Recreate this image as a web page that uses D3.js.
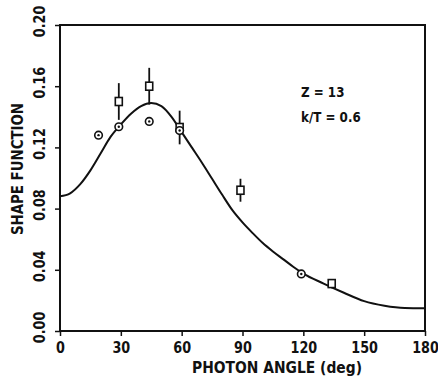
<!DOCTYPE html>
<html>
<head>
<meta charset="utf-8">
<script src="https://cdn.jsdelivr.net/npm/d3@7"></script>
<style>
  body { margin: 0; background: #fff; }
  text { font-family: "DejaVu Sans", sans-serif; font-weight: bold; fill: #111; }
</style>
</head>
<body>
<div id="chart"></div>
<script>
// theory curve (solid line)
const curveAngle = [0, 5, 10, 15, 20, 25, 30, 35, 40, 45, 50, 55, 60, 65, 70, 75, 80, 85, 90, 95, 100, 105, 110, 115, 120, 130, 140, 150, 160, 170, 180];
const curveValue = [0.088, 0.090, 0.096, 0.105, 0.116, 0.127, 0.135, 0.142, 0.147, 0.149, 0.147, 0.140, 0.130, 0.120, 0.110, 0.0995, 0.089, 0.079, 0.071, 0.064, 0.0575, 0.052, 0.047, 0.042, 0.0375, 0.031, 0.025, 0.0195, 0.0165, 0.015, 0.0148];

// square points with error bars
const sqAngle = [29, 44, 59, 89, 134];
const sqValue = [0.150, 0.160, 0.133, 0.092, 0.031];
const sqError = [0.012, 0.012, 0.011, 0.0075, 0.003];

// circle points
const cirAngle = [19, 29, 44, 59, 119];
const cirValue = [0.128, 0.1335, 0.137, 0.131, 0.0373];

const xTicks = [0, 30, 60, 90, 120, 150, 180];
const yTicks = [0, 0.04, 0.08, 0.12, 0.16, 0.20];

const W = 438, H = 385;
const margin = { top: 25, right: 13, bottom: 54, left: 60 },
  width = W - margin.left - margin.right,
  height = H - margin.top - margin.bottom;

const svg = d3.select('#chart')
  .append('svg')
  .attr('width', W)
  .attr('height', H);

const g = svg.append('g')
  .attr('transform', 'translate(' + margin.left + ',' + margin.top + ')');

const x = d3.scaleLinear().domain([0, 180]).range([0, width]);
const y = d3.scaleLinear().domain([0, 0.20]).range([height, 0]);

// X axis (labels squeezed to look like the plotter font)
const xAxis = g.append('g')
  .attr('transform', 'translate(0,' + height + ')')
  .call(d3.axisBottom(x).tickValues(xTicks).tickSize(5).tickFormat(d3.format('d')));
xAxis.select('.domain').remove();
xAxis.selectAll('line').attr('stroke', '#111').attr('stroke-width', 1.5);
xAxis.selectAll('text')
  .attr('font-size', 16)
  .attr('dy', null)
  .attr('y', 22)
  .attr('transform', 'scale(0.8,1)');

// Y axis, labels rotated
const yAxis = g.append('g')
  .call(d3.axisLeft(y).tickValues(yTicks).tickSize(5).tickFormat(d3.format('.2f')));
yAxis.select('.domain').remove();
yAxis.selectAll('line').attr('stroke', '#111').attr('stroke-width', 1.5);
yAxis.selectAll('text')
  .attr('font-size', 16)
  .attr('x', null)
  .attr('dy', null)
  .attr('text-anchor', 'middle')
  .attr('transform', 'translate(-15,-4) rotate(-90) scale(0.8,1)');

// frame
g.append('rect')
  .attr('x', 0).attr('y', 0)
  .attr('width', width).attr('height', height)
  .attr('fill', 'none')
  .attr('stroke', '#111')
  .attr('stroke-width', 2);

// curve
g.append('path')
  .datum(curveAngle.map((a, i) => [a, curveValue[i]]))
  .attr('fill', 'none')
  .attr('stroke', '#111')
  .attr('stroke-width', 2)
  .attr('d', d3.line()
    .x(d => x(d[0]))
    .y(d => y(d[1]))
    .curve(d3.curveMonotoneX));

// error bars
g.selectAll('.err')
  .data(sqAngle)
  .enter().append('line')
  .attr('x1', (d) => x(d)).attr('x2', (d) => x(d))
  .attr('y1', (d, i) => y(sqValue[i] + sqError[i]))
  .attr('y2', (d, i) => y(sqValue[i] - sqError[i]))
  .attr('stroke', '#111')
  .attr('stroke-width', 1.8);

// squares
g.selectAll('.sq')
  .data(sqAngle)
  .enter().append('rect')
  .attr('x', (d) => x(d) - 3.5)
  .attr('y', (d, i) => y(sqValue[i]) - 4)
  .attr('width', 7)
  .attr('height', 8)
  .attr('fill', '#fff')
  .attr('stroke', '#111')
  .attr('stroke-width', 1.6);

// circles
g.selectAll('.cir')
  .data(cirAngle)
  .enter().append('circle')
  .attr('cx', (d) => x(d))
  .attr('cy', (d, i) => y(cirValue[i]))
  .attr('r', 3.8)
  .attr('fill', '#fff')
  .attr('stroke', '#111')
  .attr('stroke-width', 1.6);
g.selectAll('.cdot')
  .data(cirAngle)
  .enter().append('circle')
  .attr('cx', (d) => x(d))
  .attr('cy', (d, i) => y(cirValue[i]))
  .attr('r', 1.2)
  .attr('fill', '#111');

// annotations
g.append('text')
  .attr('transform', 'translate(241,72) scale(0.85,1)')
  .attr('font-size', 14)
  .text('Z = 13');
g.append('text')
  .attr('transform', 'translate(241,97) scale(0.85,1)')
  .attr('font-size', 14)
  .text('k/T = 0.6');

// axis titles
svg.append('text')
  .attr('x', 277).attr('y', 373)
  .attr('text-anchor', 'middle')
  .attr('font-size', 16)
  .attr('textLength', 170)
  .attr('lengthAdjust', 'spacingAndGlyphs')
  .text('PHOTON ANGLE (deg)');

svg.append('text')
  .attr('transform', 'translate(23,169) rotate(-90)')
  .attr('text-anchor', 'middle')
  .attr('font-size', 16)
  .attr('textLength', 132)
  .attr('lengthAdjust', 'spacingAndGlyphs')
  .text('SHAPE FUNCTION');
</script>
</body>
</html>
